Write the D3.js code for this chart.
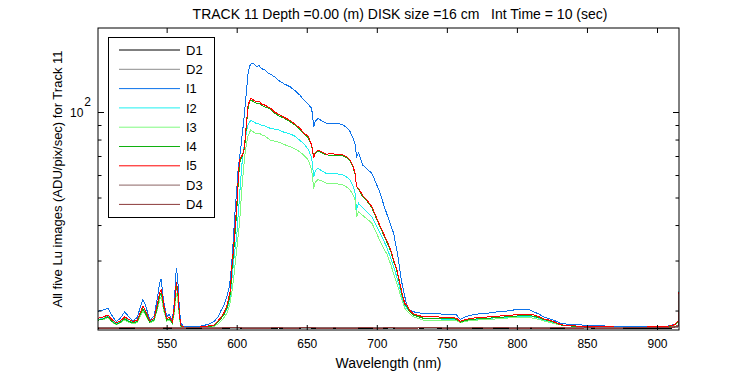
<!DOCTYPE html>
<meta charset="utf-8">
<head>
    <!-- load the d3.js library -->
    <script src="https://d3js.org/d3.v7.min.js"></script>
    <style>
    body { margin: 0; background-color: white; }
    text { font-family: "Liberation Sans", Arial, sans-serif; fill: black; }
    .tickLabel { font-size: 12px; }
    .title { font-size: 14px; white-space: pre; }
    .label { font-size: 14px; }
    .ylabel { font-size: 13px; }
    .legendText { font-size: 13px; }
    .line { fill: none; stroke-width: 1px; shape-rendering: crispEdges; }
    </style>
</head>
<body>
<svg id="chart"></svg>
<script>

// wavelengths (nm) shared by the five Lu image spectra
var wavelength = [501,503,505,508,511,514,517,520,523,526,
    529,531,533,535,538,541,543,545,546,547,
    548,550,552,554,555.5,556.5,557,558,559,560,
    562,566,570,574,578,581,584,587,589,591,
    593,594.5,595.5,596.5,597.7,599,
    600,601,602,603,604,605,606,607,608,609,
    610,612,614,616,618,620,622,624,
    627,630,634,638,642,645,648,651,653.5,655,
    656,658,661,664,668,672,676,679,681,683,
    684.6,685.5,687,690,693,696.5,699,702.5,705,707,
    710,712,714,715.5,717,718,720,721.5,723,726,
    733,740,750,757,759.5,763,768,774,780,786,
    792,798,805,808,812,816,819,823,826,832,
    838,845,855,869,880,893,903,907,911,913,
    915,915.7];

var I1 = [19.9,20.0,20.1,20.4,19.2,18.3,18.8,19.8,19.0,18.4,
    18.9,20.4,21.9,20.8,18.5,19.1,21.6,24.9,25.8,23.4,
    21.4,19.0,19.4,18.3,21.5,26.4,28.2,25.4,20.8,18.1,
    17.6,17.6,17.6,17.6,17.8,18.0,18.3,19.1,20.1,20.9,
    22.4,24.0,26.0,29.4,36.4,46.0,
    53,62.5,69,75.5,84,92.4,105,119.5,135,144,
    147.6,148.5,144.5,145.5,142,140.6,137.5,136.1,
    133,129,125.5,122.8,118.5,114.8,110.2,106.7,103.0,88.8,
    92.5,95.0,93,91.2,90.7,91.2,90.0,87.8,85.2,81,
    76.5,69.6,72,65,63,60.8,56.9,51.7,47,44.0,
    40,37.4,33.2,30.1,26.6,24.9,22.4,20.6,20.2,19.8,
    19.5,19.5,19.4,19.3,18.6,19.0,19.3,19.5,19.6,19.8,
    19.9,20.1,20.2,20.2,19.8,19.4,19.0,18.7,18.5,18.0,
    17.85,17.8,17.7,17.6,17.6,17.5,17.6,17.6,17.8,17.9,
    18.4,23.3];

var I2 = [18.6,18.7,18.8,19.1,18.4,18.0,18.3,18.8,18.4,18.15,
    18.35,19.3,20.3,19.6,18.25,18.6,20.2,22.4,23.0,21.8,
    20.3,18.55,18.7,18.15,20.1,23.0,24.0,22.4,19.5,17.7,
    17.45,17.45,17.45,17.45,17.55,17.65,17.8,18.4,18.9,19.4,
    20.2,21.4,22.6,25.5,29.4,33.5,
    36.4,43,50.3,59,67.8,74,79.7,85,90.0,92.0,
    93.2,92.5,91.0,90.7,89.8,89.3,88.5,87.6,
    87.0,86.4,84.8,83.8,82.0,79.5,77.3,74.0,69.0,59.2,
    62.0,63.3,61.9,60.8,60.7,60.5,60.0,58.8,57.6,55.0,
    51.7,45.2,47.7,46.0,44.5,42.8,40.5,37.4,35.2,33.5,
    30.5,28.5,26.5,24.9,23.3,22.4,20.9,20.3,19.9,19.3,
    18.8,18.7,18.65,18.6,18.2,18.5,18.6,18.7,18.8,18.85,
    18.9,19.0,19.0,19.05,19.0,18.75,18.5,18.3,18.1,17.8,
    17.7,17.6,17.55,17.5,17.5,17.5,17.55,17.6,17.7,17.85,
    18.4,23.5];

var I3 = [18.5,18.55,18.6,18.9,18.2,17.8,18.1,18.5,18.2,17.95,
    18.15,19.0,19.9,19.3,18.1,18.4,19.8,21.8,22.3,21.2,
    19.9,18.35,18.5,18.0,19.6,22.0,23.0,21.6,19.1,17.6,
    17.4,17.4,17.4,17.4,17.45,17.5,17.6,18.0,18.4,18.9,
    19.6,20.6,21.6,23.2,25.6,29.5,
    32.7,36.5,40.6,48,56.1,64,71.6,77,81.9,84.5,
    86.4,85.0,83.7,84.4,83.0,82.3,81.0,79.7,
    79.0,78.3,76.8,75.5,74.0,72.5,70.4,67.8,62.5,53.8,
    56.5,57.9,57.1,56.1,56.0,55.8,55.3,54.2,53.1,51.0,
    49.0,42.8,44.6,43.2,42.0,40.6,38.2,35.0,33.0,31.8,
    29.0,27.0,25.2,23.9,22.5,21.8,20.4,19.9,19.6,19.0,
    18.5,18.5,18.45,18.45,18.1,18.3,18.45,18.55,18.6,18.7,
    18.8,18.9,18.9,18.9,18.8,18.6,18.4,18.2,18.0,17.75,
    17.65,17.6,17.5,17.5,17.45,17.45,17.5,17.55,17.65,17.8,
    18.2,22.5];

var I4 = [18.5,18.6,18.7,19.0,18.3,17.9,18.2,18.7,18.3,18.1,
    18.3,19.3,20.3,19.5,18.2,18.5,20.2,22.5,23.1,21.9,
    20.4,18.5,18.7,18.1,20.2,23.3,24.5,22.8,19.6,17.7,
    17.45,17.45,17.45,17.45,17.5,17.6,17.7,18.3,18.8,19.4,
    20.4,21.8,23.0,27.5,31.5,38.5,
    44.5,55,65.5,68.5,70.0,72.0,78.5,90,102.5,108,
    110.5,108.5,107.5,107.0,105.5,104.3,103.5,102.2,
    99.2,97.0,95.0,92.5,89.6,87.0,83.5,81.3,76.0,69.5,
    71.2,72.8,71.6,70.6,70.5,70.2,70.0,68.8,67.2,64.0,
    60.2,55.0,53.3,50.3,48.6,46.0,43.0,39.2,36.8,35.0,
    32.3,29.8,27.9,26.0,24.0,22.7,21.0,20.6,20.0,19.3,
    18.8,18.8,18.75,18.65,18.2,18.45,18.65,18.7,18.8,18.9,
    19.0,19.1,19.2,19.2,19.1,18.85,18.6,18.4,18.2,17.75,
    17.65,17.55,17.5,17.5,17.45,17.45,17.5,17.55,17.65,17.85,
    18.3,23.0];

var I5 = [18.8,18.9,19.0,19.3,18.6,18.1,18.4,19.0,18.6,18.3,
    18.5,19.6,20.7,19.9,18.4,18.8,20.6,23.0,23.7,22.4,
    20.8,18.7,18.9,18.3,20.6,24.0,25.2,23.4,19.9,17.8,
    17.5,17.5,17.5,17.5,17.6,17.7,17.8,18.5,19.0,19.7,
    20.8,22.4,23.5,28.5,32.7,40.5,
    46.4,57,67.8,69.5,70.5,72.5,80,92,104.4,109,
    111.7,110.2,108.5,109.0,106.5,105.8,104.5,103.3,
    100,98.2,95.7,93.5,90.3,87.9,84.1,82.2,76.5,68.7,
    72.0,73.5,72.3,71.1,71.3,70.9,70.6,69.4,67.8,64.5,
    60.8,54.6,53.8,50.8,49.0,46.4,43.4,39.5,37.2,35.4,
    32.7,30.1,28.3,26.3,24.3,23.0,21.2,20.9,20.2,19.5,
    19.0,19.0,18.95,18.8,18.3,18.6,18.8,18.9,19.0,19.1,
    19.2,19.3,19.4,19.35,19.3,19.0,18.7,18.5,18.3,17.8,
    17.7,17.6,17.55,17.5,17.5,17.5,17.55,17.6,17.7,17.9,
    18.4,23.3];

// dark frames, coarser sampling
var darkWavelength = [501,510,520,530,540,550,560,570,580,590,
    600,610,620,630,640,650,660,670,680,690,
    700,710,720,730,740,750,760,770,780,790,
    800,810,820,830,840,850,860,870,880,890,
    900,910,915,915.7];

var D1 = [17.30,17.34,17.28,17.32,17.36,17.30,17.27,17.33,17.31,17.35,
    17.29,17.33,17.30,17.36,17.28,17.32,17.34,17.29,17.31,17.35,
    17.30,17.27,17.33,17.36,17.30,17.32,17.28,17.34,17.31,17.29,
    17.35,17.30,17.33,17.28,17.32,17.36,17.30,17.34,17.29,17.33,
    17.31,17.35,17.45,18.2];

var D2 = [17.38,17.35,17.41,17.37,17.34,17.40,17.38,17.36,17.42,17.37,
    17.35,17.39,17.41,17.36,17.38,17.34,17.40,17.37,17.42,17.36,
    17.39,17.35,17.41,17.37,17.34,17.40,17.38,17.36,17.41,17.37,
    17.35,17.39,17.42,17.36,17.38,17.34,17.40,17.37,17.41,17.36,
    17.38,17.40,17.50,18.5];

var D3 = [17.42,17.45,17.40,17.44,17.47,17.41,17.43,17.46,17.40,17.44,
    17.42,17.47,17.41,17.45,17.43,17.40,17.46,17.42,17.44,17.47,
    17.41,17.43,17.46,17.40,17.44,17.42,17.47,17.41,17.45,17.43,
    17.40,17.46,17.42,17.44,17.47,17.41,17.43,17.46,17.40,17.44,
    17.45,17.50,17.70,22.8];

var D4 = [17.36,17.33,17.38,17.35,17.32,17.37,17.34,17.39,17.33,17.36,
    17.38,17.32,17.35,17.37,17.33,17.39,17.34,17.36,17.32,17.38,
    17.35,17.37,17.33,17.36,17.39,17.34,17.32,17.37,17.35,17.38,
    17.33,17.36,17.34,17.39,17.32,17.37,17.35,17.33,17.38,17.36,
    17.37,17.40,17.60,19.8];

var seriesNames = ["D1", "D2", "I1", "I2", "I3", "I4", "I5", "D3", "D4"];
var seriesColors = ["#000000", "#8c8c8c", "#0c72ea", "#1ef0f0", "#80fa80", "#10b010", "#ff0000", "#8c6464", "#8b3a3a"];
var seriesValues = [D1, D2, I1, I2, I3, I4, I5, D3, D4];
var seriesWl = [darkWavelength, darkWavelength, wavelength, wavelength, wavelength, wavelength, wavelength, darkWavelength, darkWavelength];

var xTicks = [550, 600, 650, 700, 750, 800, 850, 900];
var yTicks = [20, 30, 40, 50, 60, 70, 80, 90, 100];

// set the dimensions and margins of the graph
var margin = {top: 28, right: 71, bottom: 45, left: 98},
    width = 750 - margin.left - margin.right,
    height = 375 - margin.top - margin.bottom;

var x = d3.scaleLinear().domain([501, 915.7]).range([0, width]);
var y = d3.scaleLog().domain([17.08, 197.6]).range([height, 0]);

var root = d3.select("#chart")
    .attr("width", 750)
    .attr("height", 375);

var svg = root.append("g")
    .attr("transform", "translate(" + margin.left + "," + margin.top + ")");

// clip the curves to the plot box
svg.append("clipPath").attr("id", "plotClip")
    .append("rect").attr("width", width).attr("height", height);

// the lines
var plot = svg.append("g").attr("clip-path", "url(#plotClip)");
seriesNames.forEach(function(name, k) {
    var pts = seriesWl[k].map(function(w, i) { return [w, seriesValues[k][i]]; });
    plot.append("path")
        .datum(pts)
        .attr("class", "line")
        .attr("stroke", seriesColors[k])
        .attr("d", d3.line()
            .x(function(d) { return x(d[0]); })
            .y(function(d) { return y(d[1]); }));
});

// axes, ticks pointing inwards like matlab
var xb = svg.append("g")
    .attr("transform", "translate(0," + height + ")")
    .call(d3.axisBottom(x).tickValues(xTicks).tickSizeInner(-5).tickSizeOuter(0).tickPadding(9));
xb.selectAll("text").attr("class", "tickLabel").attr("font-size", null).attr("font-family", null);

svg.append("g")
    .call(d3.axisTop(x).tickValues(xTicks).tickSizeInner(-5).tickSizeOuter(0).tickFormat(""));

var yl = svg.append("g")
    .call(d3.axisLeft(y).tickValues(yTicks).tickSizeInner(-3.5).tickSizeOuter(0).tickFormat(""));
var yr = svg.append("g")
    .attr("transform", "translate(" + width + ",0)")
    .call(d3.axisRight(y).tickValues(yTicks).tickSizeInner(-3.5).tickSizeOuter(0).tickFormat(""));

// major decade tick a bit longer
yl.selectAll(".tick").filter(function(d) { return d === 100; }).select("line").attr("x2", 6);
yr.selectAll(".tick").filter(function(d) { return d === 100; }).select("line").attr("x2", -6);

svg.selectAll(".domain").remove();
svg.selectAll(".tick line").attr("stroke", "black");

// box
svg.append("rect")
    .attr("x", 0).attr("y", 0)
    .attr("width", width).attr("height", height)
    .attr("fill", "none")
    .attr("stroke", "black");

// 10^2 label
var lab = svg.append("text")
    .attr("class", "tickLabel")
    .attr("x", -28)
    .attr("y", y(100) + 5);
lab.append("tspan").text("10");
lab.append("tspan").attr("dy", -11).attr("dx", 1).text("2");

// title and axis labels
root.append("text")
    .attr("class", "title")
    .attr("x", 400)
    .attr("y", 19)
    .attr("text-anchor", "middle")
    .text("TRACK 11 Depth =0.00 (m) DISK size =16 cm   Int Time = 10 (sec)");

root.append("text")
    .attr("class", "label")
    .attr("x", margin.left + width / 2)
    .attr("y", 368)
    .attr("text-anchor", "middle")
    .text("Wavelength (nm)");

root.append("text")
    .attr("class", "ylabel")
    .attr("transform", "translate(62," + (margin.top + height / 2) + ") rotate(-90)")
    .attr("text-anchor", "middle")
    .text("All five Lu images (ADU/pix/sec) for Track 11");

// legend
var legend = root.append("g").attr("transform", "translate(108.5,37.5)");
legend.append("rect")
    .attr("width", 106).attr("height", 180)
    .attr("fill", "white").attr("stroke", "black");
seriesNames.forEach(function(name, k) {
    var ly = 12.5 + k * 19.3;
    legend.append("line")
        .attr("x1", 10.5).attr("x2", 71.5)
        .attr("y1", ly).attr("y2", ly)
        .attr("stroke", seriesColors[k]);
    legend.append("text")
        .attr("class", "legendText")
        .attr("x", 77.5).attr("y", ly)
        .attr("dy", "0.36em")
        .text(name);
});

</script>
</body>
